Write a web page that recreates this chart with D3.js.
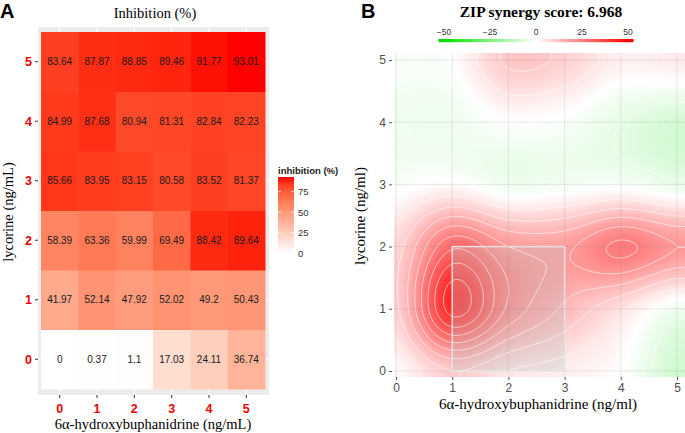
<!DOCTYPE html>
<html>
<head>
<meta charset="utf-8">
<script src="https://cdn.jsdelivr.net/npm/d3@7"></script>
<style>
  html, body { margin: 0; padding: 0; background: #fff; }
  svg { display: block; }
</style>
</head>
<body>
<svg id="chart" width="685" height="433"></svg>
<script>
// ---------------- DATA ----------------
const doseLabels = ["0", "1", "2", "3", "4", "5"];          // tick labels (both axes)
const buphanidrineDoses = [0, 1, 2, 3, 4, 5];                // x doses
const lycorineDoses = [0, 1, 2, 3, 4, 5];                    // y doses
// inhibition (%) rows = lycorine dose 0..5, columns = 6α-hydroxybuphanidrine dose 0..5
const inhibLyc0 = [0, 0.37, 1.1, 17.03, 24.11, 36.74];
const inhibLyc1 = [41.97, 52.14, 47.92, 52.02, 49.2, 50.43];
const inhibLyc2 = [58.39, 63.36, 59.99, 69.49, 88.42, 89.64];
const inhibLyc3 = [85.66, 83.95, 83.15, 80.58, 83.52, 81.37];
const inhibLyc4 = [84.99, 87.68, 80.94, 81.31, 82.84, 82.23];
const inhibLyc5 = [83.64, 87.87, 88.85, 89.46, 91.77, 93.01];
const inhibitionRows = [inhibLyc0, inhibLyc1, inhibLyc2, inhibLyc3, inhibLyc4, inhibLyc5];
const inhibLegendTicks = [0, 25, 50, 75];
// ZIP synergy (delta) scores estimated from the surface at the dose grid
const zipLyc0 = [1, 10, 5, 3, 0, -9];
const zipLyc1 = [9, 42, 24, 14, 6, -3];
const zipLyc2 = [8, 29, 20, 19, 26, 20];
const zipLyc3 = [-1, 1, -3, -2, -1, -4];
const zipLyc4 = [-3, -3, 0, -1, -5, -8];
const zipLyc5 = [-1, 0, 11, 9, 3, 4];
const zipRows = [zipLyc0, zipLyc1, zipLyc2, zipLyc3, zipLyc4, zipLyc5];
const zipScore = "6.968";
const zipLegendTicks = [-50, -25, 0, 25, 50];

// ---------------- SETUP ----------------
const svg = d3.select("#chart");
const serif = "'Liberation Serif', 'Times New Roman', serif";
const sans = "'Liberation Sans', Arial, sans-serif";

// ================= PANEL A =================
const gA = svg.append("g");
gA.append("text").attr("x", 0).attr("y", 18).attr("font-family", sans)
  .attr("font-weight", "bold").attr("font-size", 20).text("A");
gA.append("text").attr("x", 155).attr("y", 18).attr("text-anchor", "middle")
  .attr("font-family", serif).attr("font-size", 14.5).text("Inhibition (%)");

const panelA = {x0: 38, x1: 269, y0: 27, y1: 395};
const xA = d3.scaleBand().domain(doseLabels).range([41, 265]);
const yA = d3.scaleBand().domain(doseLabels.slice().reverse()).range([32, 389]);
const fillA = d3.scaleLinear().domain([0, 93.01]).range(["#ffffff", "#ff0000"])
  .interpolate(d3.interpolateLab).clamp(true);

gA.append("rect").attr("x", panelA.x0).attr("y", panelA.y0)
  .attr("width", panelA.x1 - panelA.x0).attr("height", panelA.y1 - panelA.y0)
  .attr("fill", "#ebebeb");
// grid lines
gA.selectAll(".gx").data(doseLabels).join("line")
  .attr("x1", d => xA(d) + xA.bandwidth() / 2).attr("x2", d => xA(d) + xA.bandwidth() / 2)
  .attr("y1", panelA.y0).attr("y2", panelA.y1).attr("stroke", "#fff").attr("stroke-width", 1.1);
gA.selectAll(".gy").data(doseLabels).join("line")
  .attr("y1", d => yA(d) + yA.bandwidth() / 2).attr("y2", d => yA(d) + yA.bandwidth() / 2)
  .attr("x1", panelA.x0).attr("x2", panelA.x1).attr("stroke", "#fff").attr("stroke-width", 1.1);

const cells = [];
inhibitionRows.forEach((row, ri) => row.forEach((v, ci) =>
  cells.push({x: doseLabels[ci], y: doseLabels[ri], v})));
gA.selectAll(".tile").data(cells).join("rect")
  .attr("x", d => xA(d.x)).attr("y", d => yA(d.y))
  .attr("width", xA.bandwidth() + 0.5).attr("height", yA.bandwidth() + 0.5)
  .attr("fill", d => fillA(d.v));
gA.selectAll(".lbl").data(cells).join("text")
  .attr("x", d => xA(d.x) + xA.bandwidth() / 2).attr("y", d => yA(d.y) + yA.bandwidth() / 2 + 3.5)
  .attr("text-anchor", "middle").attr("font-family", sans).attr("font-size", 10)
  .attr("fill", "#1a1a1a").text(d => String(d.v));

// axes
const axXA = gA.append("g").attr("transform", `translate(0,${panelA.y1})`)
  .call(d3.axisBottom(xA).tickSize(3).tickPadding(3));
const axYA = gA.append("g").attr("transform", `translate(${panelA.x0},0)`)
  .call(d3.axisLeft(yA).tickSize(3).tickPadding(3));
[axXA, axYA].forEach(ax => {
  ax.select(".domain").remove();
  ax.selectAll(".tick line").attr("stroke", "#333").attr("stroke-width", 1);
  ax.selectAll(".tick text").attr("fill", "#ee0000").attr("font-family", sans)
    .attr("font-weight", "bold").attr("font-size", 12.5);
});
axXA.selectAll(".tick text").attr("dy", "0.95em");
axYA.selectAll(".tick text").attr("dy", "0.36em");

gA.append("text").attr("x", 153).attr("y", 429).attr("text-anchor", "middle")
  .attr("font-family", serif).attr("font-size", 14.5).text("6α-hydroxybuphanidrine (ng/mL)");
gA.append("text").attr("transform", "translate(13,212) rotate(-90)").attr("text-anchor", "middle")
  .attr("font-family", serif).attr("font-size", 14.5).text("lycorine (ng/mL)");

// legend A
const legA = gA.append("g");
const legScaleA = d3.scaleLinear().domain([0, 93.01]).range([253, 177]);
const defs = svg.append("defs");
const gradA = defs.append("linearGradient").attr("id", "gradA")
  .attr("x1", 0).attr("y1", 1).attr("x2", 0).attr("y2", 0);
d3.range(0, 1.0001, 0.1).forEach(t => gradA.append("stop")
  .attr("offset", t).attr("stop-color", fillA(t * 93.01)));
legA.append("rect").attr("x", 278).attr("y", legScaleA(93.01)).attr("width", 16)
  .attr("height", legScaleA(0) - legScaleA(93.01)).attr("fill", "url(#gradA)");
legA.selectAll(".lt1").data(inhibLegendTicks.filter(d => d > 0)).join("line")
  .attr("x1", 278).attr("x2", 281).attr("y1", d => legScaleA(d)).attr("y2", d => legScaleA(d))
  .attr("stroke", "#fff").attr("stroke-width", 0.8);
legA.selectAll(".lt2").data(inhibLegendTicks.filter(d => d > 0)).join("line")
  .attr("x1", 291).attr("x2", 294).attr("y1", d => legScaleA(d)).attr("y2", d => legScaleA(d))
  .attr("stroke", "#fff").attr("stroke-width", 0.8);
legA.selectAll(".ll").data(inhibLegendTicks).join("text")
  .attr("x", 298).attr("y", d => legScaleA(d) + 3.5).attr("font-family", sans)
  .attr("font-size", 9.5).attr("fill", "#333").text(d => d);
legA.append("text").attr("x", 278).attr("y", 174).attr("font-family", sans)
  .attr("font-weight", "bold").attr("font-size", 9.5).attr("fill", "#1a1a1a").text("inhibition (%)");

// ================= PANEL B =================
const gB = svg.append("g");
gB.append("text").attr("x", 361).attr("y", 18).attr("font-family", sans)
  .attr("font-weight", "bold").attr("font-size", 20).text("B");
gB.append("text").attr("x", 541).attr("y", 17).attr("text-anchor", "middle")
  .attr("font-family", serif).attr("font-weight", "bold").attr("font-size", 15.5)
  .text("ZIP synergy score: " + zipScore);

const xB = d3.scaleLinear().domain([0, 5]).range([396, 677]);
const yB = d3.scaleLinear().domain([0, 5]).range([371, 60]);
const plotB = {x0: 394, x1: 685, y0: 53, y1: 377};

// colour for synergy
const synColor = d3.scaleLinear().domain([-50, 0, 50])
  .range(["#00e000", "#ffffff", "#ff0000"]).clamp(true);

// legend B
const legScaleB = d3.scaleLinear().domain([-50, 50]).range([444, 628]);
const gradB = defs.append("linearGradient").attr("id", "gradB");
d3.range(-53, 53.01, 2).forEach(v => gradB.append("stop")
  .attr("offset", (v + 53) / 106)
  .attr("stop-color", Math.abs(v) < 3 ? "#ffffff" : synColor(v)));
gB.append("rect").attr("x", legScaleB(-53)).attr("y", 39)
  .attr("width", legScaleB(53) - legScaleB(-53)).attr("height", 3.2).attr("fill", "url(#gradB)");
gB.selectAll(".lb").data(zipLegendTicks).join("text")
  .attr("x", d => legScaleB(d)).attr("y", 35).attr("text-anchor", "middle")
  .attr("font-family", sans).attr("font-size", 8.5).attr("fill", "#333")
  .text(d => d < 0 ? "\u2212" + Math.abs(d) : d);

// interpolation of the dose grid (bicubic, Catmull-Rom)
function cr(p0, p1, p2, p3, t) {
  return 0.5 * (2 * p1 + (-p0 + p2) * t + (2 * p0 - 5 * p1 + 4 * p2 - p3) * t * t
    + (-p0 + 3 * p1 - 3 * p2 + p3) * t * t * t);
}
const n = buphanidrineDoses.length;
function g(ix, iy) {
  ix = Math.max(0, Math.min(n - 1, ix)); iy = Math.max(0, Math.min(n - 1, iy));
  return zipRows[iy][ix];
}
function surf(xv, yv) {
  xv = Math.max(0, Math.min(5, xv)); yv = Math.max(0, Math.min(5, yv));
  let i = Math.min(n - 2, Math.floor(xv)), j = Math.min(n - 2, Math.floor(yv));
  const tx = xv - i, ty = yv - j;
  const cols = [-1, 0, 1, 2].map(dj =>
    cr(g(i - 1, j + dj), g(i, j + dj), g(i + 1, j + dj), g(i + 2, j + dj), tx));
  return cr(cols[0], cols[1], cols[2], cols[3], ty);
}

// raster surface
const W = plotB.x1 - plotB.x0, H = plotB.y1 - plotB.y0;
const canvas = document.createElement("canvas");
canvas.width = W; canvas.height = H;
const ctx = canvas.getContext("2d");
const img = ctx.createImageData(W, H);
for (let py = 0; py < H; py++) {
  for (let px = 0; px < W; px++) {
    const v = surf(xB.invert(plotB.x0 + px + 0.5), yB.invert(plotB.y0 + py + 0.5));
    const c = d3.rgb(synColor(v));
    const k = (py * W + px) * 4;
    img.data[k] = c.r; img.data[k + 1] = c.g; img.data[k + 2] = c.b; img.data[k + 3] = 255;
  }
}
ctx.putImageData(img, 0, 0);
gB.append("image").attr("x", plotB.x0).attr("y", plotB.y0).attr("width", W).attr("height", H)
  .attr("href", canvas.toDataURL());

// highlighted most-synergistic area
gB.append("rect").attr("x", xB(1)).attr("y", yB(2)).attr("width", xB(3) - xB(1))
  .attr("height", yB(0) - yB(2)).attr("fill", "#c0c0c0").attr("fill-opacity", 0.34)
  .attr("stroke", "#f2f2f2").attr("stroke-width", 1.4);

// contours
defs.append("clipPath").attr("id", "clipB").append("rect")
  .attr("x", plotB.x0).attr("y", plotB.y0).attr("width", W).attr("height", H);
const step = 2, margin = 10;
const cx0 = plotB.x0 - margin, cy0 = plotB.y0 - margin;
const nx = Math.ceil((W + 2 * margin) / step), ny = Math.ceil((H + 2 * margin) / step);
const vals = new Array(nx * ny);
for (let j = 0; j < ny; j++) for (let i = 0; i < nx; i++)
  vals[j * nx + i] = surf(xB.invert(cx0 + i * step), yB.invert(cy0 + j * step));
const thresholds = d3.range(-50, 51, 5).filter(t => t !== 0);
const contours = d3.contours().size([nx, ny]).thresholds(thresholds)(vals);
const proj = d3.geoTransform({
  point: function (x, y) { this.stream.point(cx0 + (x - 0.5) * step, cy0 + (y - 0.5) * step); }
});
gB.append("g").attr("clip-path", "url(#clipB)").selectAll("path").data(contours).join("path")
  .attr("d", d3.geoPath(proj)).attr("fill", "none").attr("stroke", "#ffffff")
  .attr("stroke-opacity", 0.7).attr("stroke-width", 0.8);

// grid lines
const gridB = gB.append("g").attr("stroke", "#777").attr("stroke-opacity", 0.45)
  .attr("stroke-width", 0.6).attr("stroke-dasharray", "1.5,1");
gridB.selectAll(".vx").data(buphanidrineDoses).join("line")
  .attr("x1", d => xB(d)).attr("x2", d => xB(d)).attr("y1", plotB.y0).attr("y2", plotB.y1);
gridB.selectAll(".hy").data(lycorineDoses).join("line")
  .attr("y1", d => yB(d)).attr("y2", d => yB(d)).attr("x1", plotB.x0).attr("x2", plotB.x1);

// axes B
const axXB = gB.append("g").attr("transform", `translate(0,${plotB.y1})`)
  .call(d3.axisBottom(xB).tickValues(buphanidrineDoses).tickFormat(d3.format("d")).tickSize(3).tickPadding(3));
const axYB = gB.append("g").attr("transform", `translate(${plotB.x0 - 2},0)`)
  .call(d3.axisLeft(yB).tickValues(lycorineDoses).tickFormat(d3.format("d")).tickSize(3).tickPadding(3));
[axXB, axYB].forEach(ax => {
  ax.select(".domain").remove();
  ax.selectAll(".tick line").attr("stroke", "#555");
  ax.selectAll(".tick text").attr("fill", "#4d4d4d").attr("font-family", sans).attr("font-size", 12);
});
gB.append("text").attr("x", 538).attr("y", 409).attr("text-anchor", "middle")
  .attr("font-family", serif).attr("font-size", 15).text("6α-hydroxybuphanidrine (ng/ml)");
gB.append("text").attr("transform", "translate(365,216) rotate(-90)").attr("text-anchor", "middle")
  .attr("font-family", serif).attr("font-size", 15).text("lycorine (ng/ml)");
</script>
</body>
</html>
